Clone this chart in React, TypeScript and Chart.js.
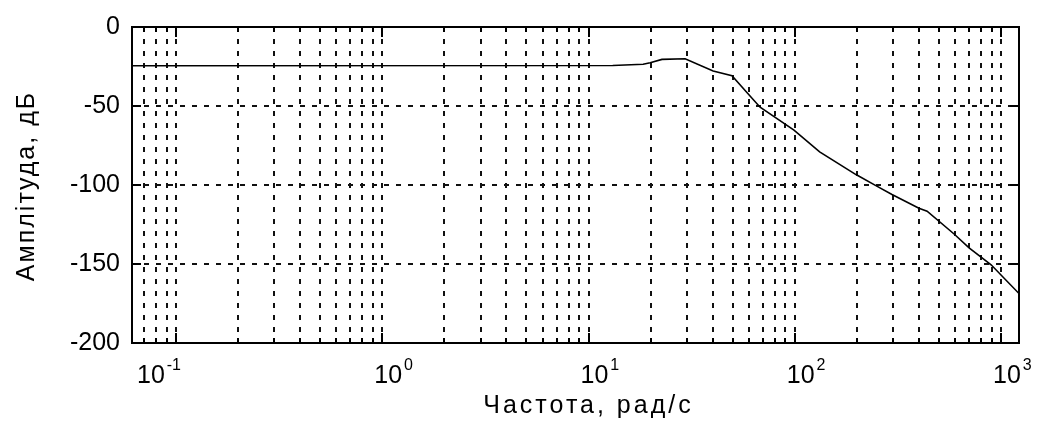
import React, { useEffect, useRef } from 'react';
import { Chart, registerables } from 'chart.js';

Chart.register(...registerables);

// Frequency (rad/s) and amplitude (dB)
const frequencies = [0.0612, 13.1, 18.4, 19.9, 22.7, 29.4, 40.2, 49.6, 58.6, 67.9, 99.1, 132, 198, 251, 296, 400, 438, 592, 700, 895, 1222];
const amplitudes = [-24.5, -24.4, -23.6, -22.6, -20.5, -20.1, -27.8, -30.9, -41.4, -50.8, -65.2, -79, -93.4, -100.9, -106, -114.7, -116.6, -131, -139.8, -150.5, -168.7];

const X_MIN = 0.0612;
const X_MAX = 1222;
const xDecadeExponents = [-2, -1, 0, 1, 2, 3];
const xMantissas = [1, 2, 3, 4, 5, 6, 7, 8, 9];
const xLabelExponents = [-1, 0, 1, 2, 3];
const yTicks = [0, -50, -100, -150, -200];

const xTitle = 'Частота, рад/с';
const yTitle = 'Амплітуда, дБ';

const FONT = '"Liberation Sans", Arial, sans-serif';

function gridValues(): { value: number; major: boolean }[] {
  const out: { value: number; major: boolean }[] = [];
  for (const e of xDecadeExponents) {
    for (const m of xMantissas) {
      const v = m * Math.pow(10, e);
      if (v >= X_MIN && v <= X_MAX) out.push({ value: v, major: m === 1 });
    }
  }
  return out;
}

const framePlugin = {
  id: 'matlabFrame',
  afterDraw(chart: any) {
    const { ctx, chartArea } = chart;
    const { left, right, top, bottom } = chartArea;
    const xs = chart.scales.x;
    const ys = chart.scales.y;
    ctx.save();
    ctx.strokeStyle = '#000';
    ctx.setLineDash([]);
    // inward ticks
    ctx.lineWidth = 2;
    ctx.beginPath();
    for (const t of gridValues()) {
      const px = Math.round(xs.getPixelForValue(t.value));
      const len = t.major ? 10 : 5;
      ctx.moveTo(px, bottom);
      ctx.lineTo(px, bottom - len);
      ctx.moveTo(px, top);
      ctx.lineTo(px, top + len);
    }
    for (const v of yTicks) {
      const py = Math.round(ys.getPixelForValue(v));
      ctx.moveTo(left, py);
      ctx.lineTo(left + 9, py);
      ctx.moveTo(right, py);
      ctx.lineTo(right - 9, py);
    }
    ctx.stroke();
    // box
    ctx.lineWidth = 2;
    ctx.strokeRect(left, top, right - left, bottom - top);

    // x tick labels with superscript exponents
    ctx.fillStyle = '#000';
    ctx.textBaseline = 'alphabetic';
    ctx.textAlign = 'left';
    for (const e of xLabelExponents) {
      const px = xs.getPixelForValue(Math.pow(10, e));
      const baseX = px - 8 - (e < 0 ? 31 : 0);
      ctx.font = `25px ${FONT}`;
      ctx.fillText('10', baseX, bottom + 40);
      const w = ctx.measureText('10').width;
      ctx.font = `16px ${FONT}`;
      ctx.fillText(String(e), baseX + w + 2, bottom + 27);
    }

    // axis titles
    ctx.font = `25px ${FONT}`;
    (ctx as any).letterSpacing = '3px';
    ctx.textAlign = 'center';
    ctx.fillText(xTitle, (left + right) / 2 + 13, bottom + 70);

    (ctx as any).letterSpacing = '2px';
    ctx.translate(34, (top + bottom) / 2 + 1);
    ctx.rotate(-Math.PI / 2);
    ctx.fillText(yTitle, 0, 0);
    ctx.restore();
  },
};

export default function App() {
  const ref = useRef<HTMLCanvasElement | null>(null);

  useEffect(() => {
    const canvas = ref.current;
    if (!canvas) return;
    const chart = new Chart(canvas, {
      type: 'line',
      data: {
        datasets: [
          {
            data: frequencies.map((f, i) => ({ x: f, y: amplitudes[i] })),
            borderColor: '#000',
            borderWidth: 1.6,
            pointRadius: 0,
            tension: 0,
            fill: false,
          },
        ],
      },
      options: {
        animation: false,
        responsive: false,
        devicePixelRatio: 1,
        layout: { padding: { top: 24, right: 20, left: 0, bottom: 0 } },
        plugins: { legend: { display: false }, tooltip: { enabled: false } },
        scales: {
          x: {
            type: 'logarithmic',
            min: X_MIN,
            max: X_MAX,
            afterBuildTicks: (s: any) => {
              s.ticks = gridValues();
            },
            afterFit: (s: any) => {
              s.height = 82;
            },
            ticks: { display: false, autoSkip: false },
            grid: { color: '#111', lineWidth: 2, drawTicks: false },
            border: { display: false, dash: [5, 7] },
          },
          y: {
            type: 'linear',
            min: -200,
            max: 0,
            afterBuildTicks: (s: any) => {
              s.ticks = yTicks.map((v) => ({ value: v }));
            },
            afterFit: (s: any) => {
              s.width = 132;
            },
            ticks: {
              color: '#000',
              padding: 12,
              font: { family: FONT, size: 25 },
            },
            grid: { color: '#111', lineWidth: 2, drawTicks: false },
            border: { display: false, dash: [5, 7] },
          },
        },
      },
      plugins: [framePlugin],
    });
    return () => chart.destroy();
  }, []);

  return (
    <div style={{ position: 'fixed', left: 0, top: 0, width: 1039, height: 425, background: '#fff' }}>
      <canvas ref={ref} width={1039} height={425} style={{ width: 1039, height: 425, display: 'block' }} />
    </div>
  );
}
